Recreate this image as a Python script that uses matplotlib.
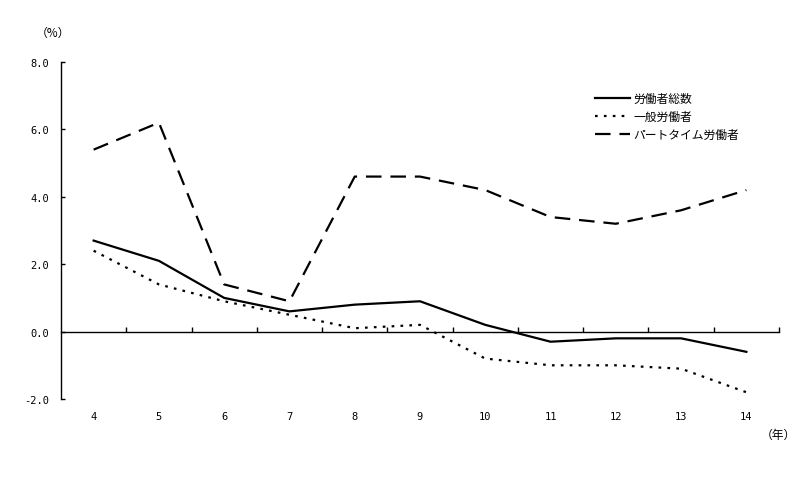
import matplotlib
matplotlib.use("Agg")
import matplotlib.pyplot as plt
from matplotlib.lines import Line2D
import matplotlib.transforms as mtransforms

plt.rcParams['font.family'] = ['Noto Sans CJK JP', 'DejaVu Sans']

years = ["4", "5", "6", "7", "8", "9", "10", "11", "12", "13", "14"]
total = [2.7, 2.1, 1.0, 0.6, 0.8, 0.9, 0.2, -0.3, -0.2, -0.2, -0.6]
general = [2.4, 1.4, 0.9, 0.5, 0.1, 0.2, -0.8, -1.0, -1.0, -1.1, -1.8]
parttime = [5.4, 6.2, 1.4, 0.9, 4.6, 4.6, 4.2, 3.4, 3.2, 3.6, 4.2]
series_names = ["労働者総数", "一般労働者", "パートタイム労働者"]
yticks = [-2.0, 0.0, 2.0, 4.0, 6.0, 8.0]

fig = plt.figure(figsize=(8.12, 4.81), dpi=100)
ax = fig.add_axes([61/812, 1-400/481, (779-61)/812, (400-63)/481])

x = list(range(len(years)))
ax.plot(x, total, color='black', lw=1.6, solid_joinstyle='round')
ax.plot(x, general, color='black', lw=1.6, linestyle=(0, (1.2, 2.8)))
ax.plot(x, parttime, color='black', lw=1.6, linestyle=(0, (7, 4)))

ax.set_xlim(-0.5, len(years) - 0.5)
ax.set_ylim(-2.0, 8.0)
ax.spines['top'].set_visible(False)
ax.spines['right'].set_visible(False)
ax.spines['bottom'].set_position(('data', 0))
ax.spines['left'].set_linewidth(1.0)
ax.spines['bottom'].set_linewidth(1.0)

ax.set_xticks([i + 0.5 for i in range(len(years))])
ax.set_xticklabels([])
ax.tick_params(axis='x', direction='in', length=3.5, width=1)
ax.set_yticks(yticks)
ax.set_yticklabels([f"{v:.1f}" for v in yticks], family='DejaVu Sans Mono', fontsize=7.5)
ax.tick_params(axis='y', direction='in', length=3, width=1, pad=8.5)

trans = mtransforms.blended_transform_factory(ax.transData, ax.transAxes)
for xi, lab in zip(x, years):
    ax.text(xi, -0.05, lab, transform=trans, ha='center', va='center',
            family='DejaVu Sans Mono', fontsize=7.5)

fig.text(53/812, 1-33/481, "（%）", ha='center', va='center', fontsize=8.5)
fig.text(778/812, 1-435/481, "（年）", ha='center', va='center', fontsize=8.5)

handles = [
    Line2D([], [], color='black', lw=1.6),
    Line2D([], [], color='black', lw=1.6, linestyle=(0, (1.2, 2.8))),
    Line2D([], [], color='black', lw=1.6, linestyle=(0, (7, 4))),
]
leg = ax.legend(handles, series_names, loc='upper left', bbox_to_anchor=(590/812, 1-88/481),
                bbox_transform=fig.transFigure, frameon=False, fontsize=8.5,
                handlelength=3.0, handletextpad=0.3, labelspacing=0.45, borderaxespad=0)

fig.savefig("out.png", dpi=100)
